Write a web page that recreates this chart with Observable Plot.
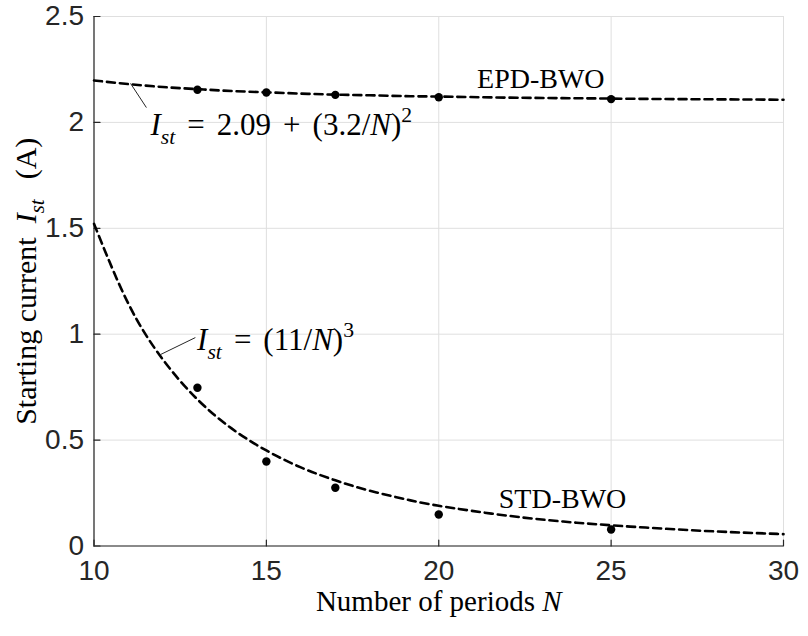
<!DOCTYPE html>
<html><head><meta charset="utf-8">
<script src="https://cdn.jsdelivr.net/npm/d3@7"></script>
<script src="https://cdn.jsdelivr.net/npm/@observablehq/plot@0.6"></script>
<style>body{margin:0;background:#fff;} svg{display:block}</style>
</head><body><div id="chart"></div>
<script>
// ---- data ----
const periods = [13, 15, 17, 20, 25];
const epdMeasured = [2.154, 2.141, 2.130, 2.119, 2.110];
const stdMeasured = [0.747, 0.399, 0.275, 0.149, 0.078];

const fitN   = [10, 11, 12, 13, 14, 15, 16, 17, 18, 19, 20, 22, 24, 26, 28, 30];
const epdFit = [2.198, 2.181, 2.167, 2.157, 2.148, 2.142, 2.136, 2.131, 2.128, 2.124, 2.122, 2.117, 2.114, 2.111, 2.109, 2.107];
const stdFit = [1.521, 1.143, 0.880, 0.692, 0.554, 0.451, 0.371, 0.310, 0.261, 0.222, 0.190, 0.143, 0.110, 0.087, 0.069, 0.056];

const xTicks = [10, 15, 20, 25, 30];
const yTicks = [0, 0.5, 1, 1.5, 2, 2.5];

const seriesNames = ["EPD-BWO", "STD-BWO"];
const seriesLabelN = [22.96, 23.59];
const seriesLabelI = [2.203, 0.224];

const formulaKeys = ["EPD_FORMULA", "STD_FORMULA"];
const formulaN = [11.64, 12.99];
const formulaI = [1.985, 0.970];

const leaderN1 = [11.06, 11.93];
const leaderI1 = [2.184, 0.904];
const leaderN2 = [11.52, 12.94];
const leaderI2 = [2.070, 0.984];

const xLabel = "X_LABEL";
const yLabel = "Y_LABEL";

// ---- tables built from the arrays ----
const measured = periods.flatMap((n, i) => [
  {N: n, I: epdMeasured[i], s: "EPD"},
  {N: n, I: stdMeasured[i], s: "STD"}
]);
const fits = fitN.flatMap((n, i) => [
  {N: n, I: epdFit[i], s: "EPD"},
  {N: n, I: stdFit[i], s: "STD"}
]);
const seriesLabels = seriesNames.map((t, i) => ({t, N: seriesLabelN[i], I: seriesLabelI[i]}));
const formulas = formulaKeys.map((t, i) => ({t, N: formulaN[i], I: formulaI[i]}));
const leaders = leaderN1.map((n, i) => ({x1: n, y1: leaderI1[i], x2: leaderN2[i], y2: leaderI2[i]}));

const serif = "'Liberation Serif', 'Times New Roman', serif";
const sans = "'Liberation Sans', Arial, sans-serif";
const tickShape = {draw(ctx, l) { ctx.moveTo(0, 0); ctx.lineTo(0, -l); }};

const plot = Plot.plot({
  width: 808,
  height: 636,
  marginLeft: 93.5,
  marginRight: 25,
  marginTop: 16,
  marginBottom: 90.5,
  style: {fontFamily: sans, fontSize: "28px", color: "#262626", background: "#fff"},
  x: {domain: [10, 30]},
  y: {domain: [0, 2.5]},
  marks: [
    Plot.gridX(xTicks, {stroke: "#dfdfdf", strokeOpacity: 1}),
    Plot.gridY(yTicks, {stroke: "#dfdfdf", strokeOpacity: 1}),
    Plot.ruleY([0], {stroke: "#262626", strokeWidth: 1.2}),
    Plot.ruleX([10], {stroke: "#262626", strokeWidth: 1.2}),
    Plot.vector(xTicks, {x: d => d, y: 0, length: 6, rotate: 0, anchor: "start", shape: tickShape, stroke: "#262626", strokeWidth: 1.2}),
    Plot.vector(yTicks, {x: 10, y: d => d, length: 6, rotate: 90, anchor: "start", shape: tickShape, stroke: "#262626", strokeWidth: 1.2}),
    Plot.axisX(xTicks, {tickSize: 0, tickPadding: 14, label: null, fontSize: 28, tickFormat: d => String(d), fill: "#262626"}),
    Plot.axisY(yTicks, {tickSize: 0, tickPadding: 10, label: null, fontSize: 28, tickFormat: d => String(d), fill: "#262626"}),
    Plot.line(fits, {x: "N", y: "I", z: "s", curve: "natural", stroke: "#000", strokeWidth: 2.6, strokeDasharray: "8,5"}),
    Plot.dot(measured, {x: "N", y: "I", r: 4.2, fill: "#000", stroke: null}),
    Plot.link(leaders, {x1: "x1", y1: "y1", x2: "x2", y2: "y2", stroke: "#262626", strokeWidth: 1}),
    Plot.text(seriesLabels, {x: "N", y: "I", text: "t", fontFamily: serif, fontSize: 28, fill: "#000", textAnchor: "middle"}),
    Plot.text(formulas, {x: "N", y: "I", text: "t", fontFamily: serif, fontSize: 31, fill: "#000", textAnchor: "start"}),
    Plot.text([xLabel], {frameAnchor: "bottom", dy: 65, fontFamily: serif, fontSize: 29, fill: "#000", textAnchor: "middle"}),
    Plot.text([yLabel], {frameAnchor: "left", dx: -68, rotate: -90, fontFamily: serif, fontSize: 30, fill: "#000", textAnchor: "middle"})
  ]
});

document.getElementById("chart").appendChild(plot);

// ---- rich text (italics, sub/superscripts); dx values are spacing gaps ----
const richParts = {
  EPD_FORMULA: [{t: "I", i: 1}, {t: "st", i: 1, sub: 1}, {t: "=", dx: 12}, {t: "2.09", dx: 12}, {t: "+", dx: 12}, {t: "(3.2/", dx: 12}, {t: "N", i: 1}, {t: ")"}, {t: "2", sup: 1}],
  STD_FORMULA: [{t: "I", i: 1}, {t: "st", i: 1, sub: 1}, {t: "=", dx: 12}, {t: "(11/", dx: 12}, {t: "N", i: 1}, {t: ")"}, {t: "3", sup: 1}],
  X_LABEL: [{t: "Number of periods "}, {t: "N", i: 1}],
  Y_LABEL: [{t: "Starting current"}, {t: "I", i: 1, dx: 14}, {t: "st", i: 1, sub: 1}, {t: "(A)", dx: 20}]
};
d3.select(plot).selectAll("text").each(function() {
  const key = this.textContent;
  const parts = richParts[key];
  if (!parts) return;
  const t = d3.select(this);
  const fs = parseFloat(getComputedStyle(this).fontSize) || 28;
  t.text(null).attr("xml:space", "preserve").style("white-space", "pre");
  let shift = 0;
  for (const p of parts) {
    const s = t.append("tspan").text(p.t);
    if (p.i) s.attr("font-style", "italic");
    if (p.dx) s.attr("dx", p.dx);
    const target = p.sub ? 0.28 * fs : p.sup ? -0.42 * fs : 0;
    if (p.sub || p.sup) s.attr("font-size", 0.7 * fs);
    if (target !== shift) { s.attr("dy", target - shift); shift = target; }
  }
});
</script>
</body></html>
